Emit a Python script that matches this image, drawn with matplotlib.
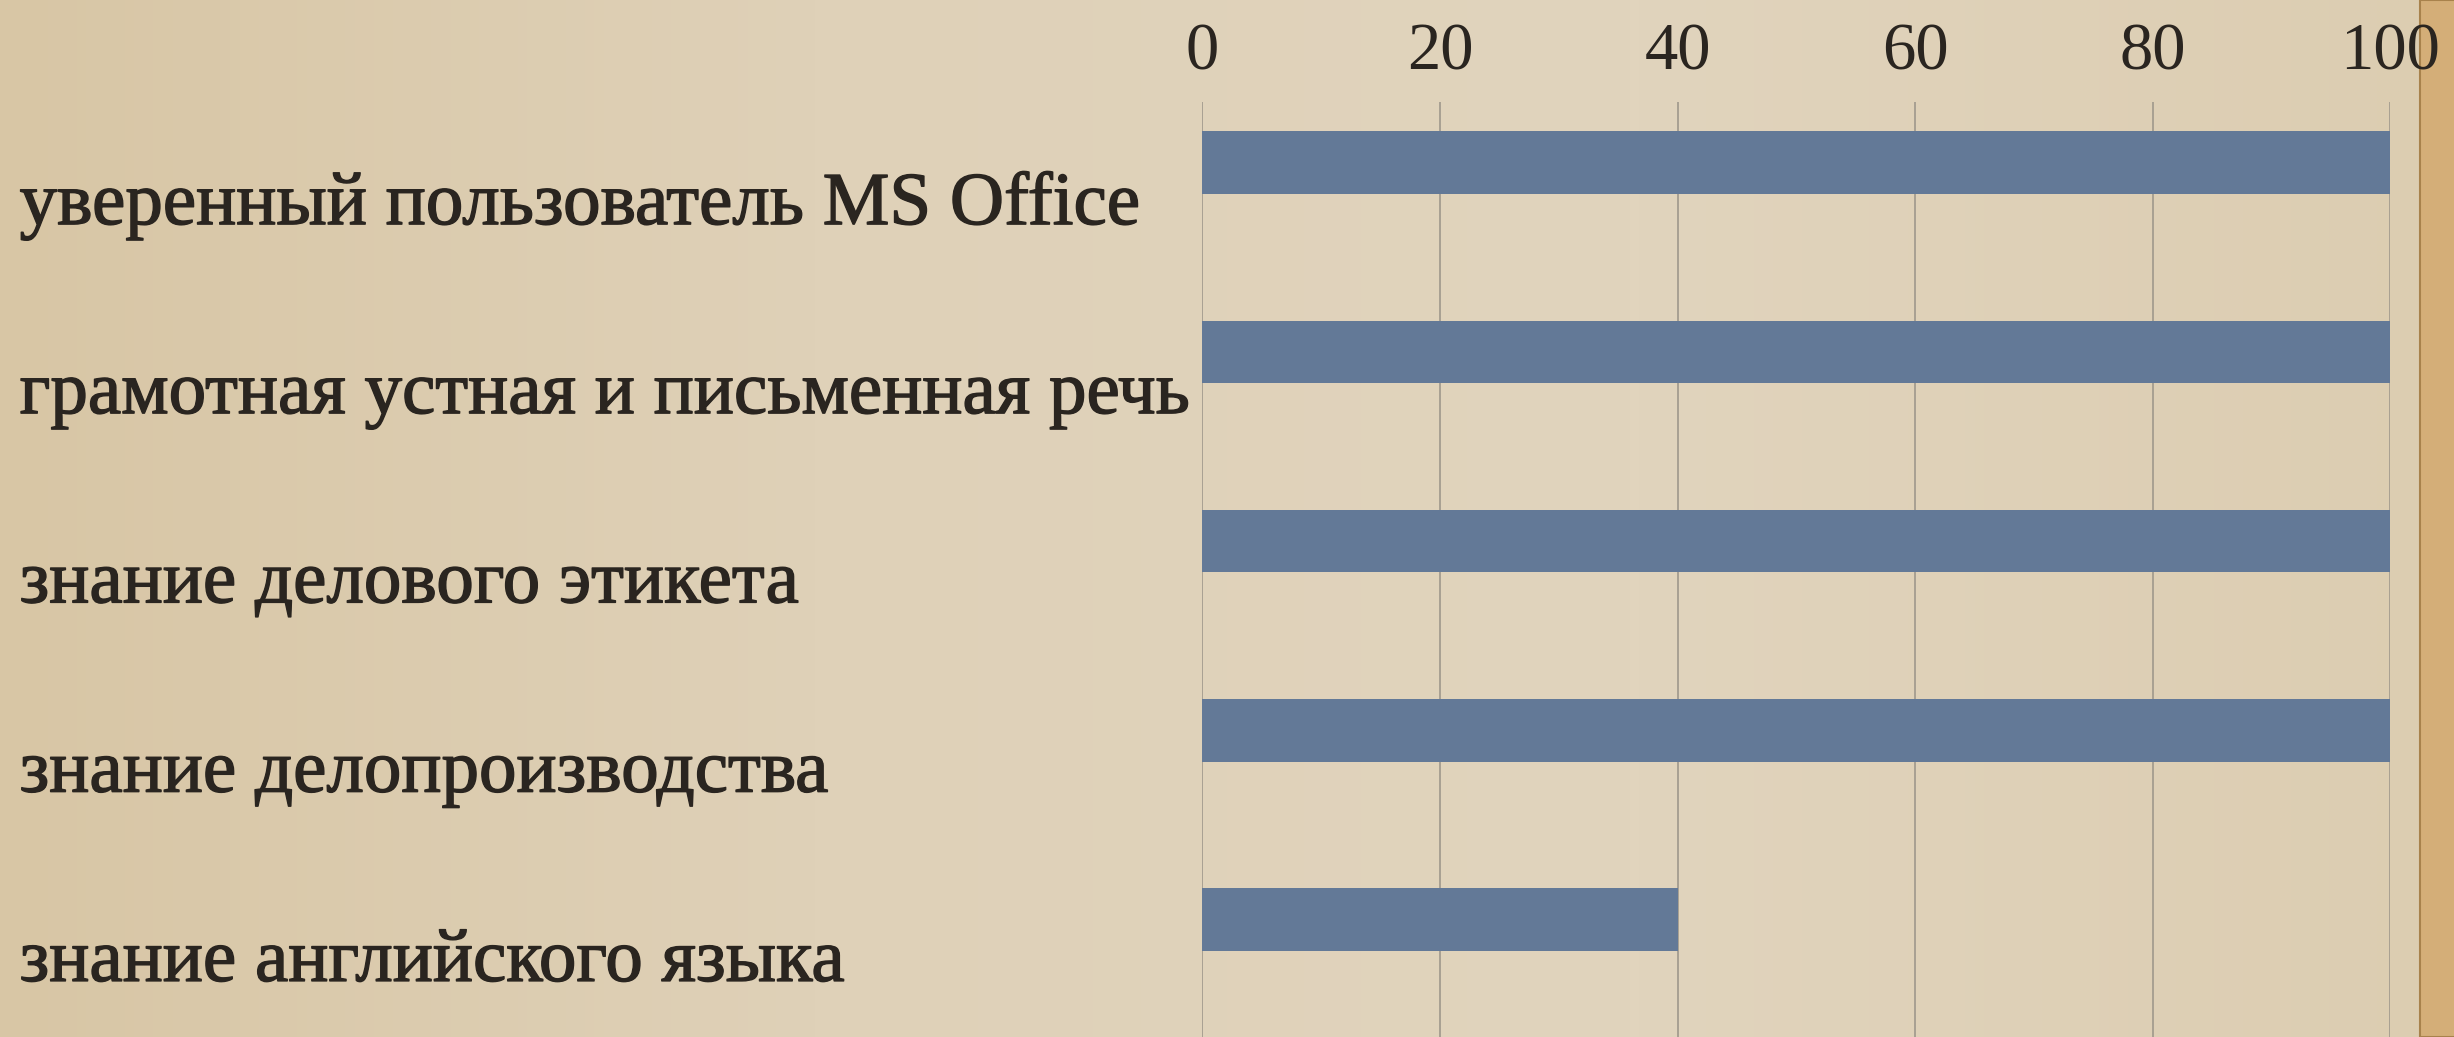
import numpy as np
import matplotlib
matplotlib.use('Agg')
import matplotlib.pyplot as plt
import matplotlib.patheffects as pe
from matplotlib.patches import Rectangle
from matplotlib.colors import LinearSegmentedColormap

# навыки и проценты
skills = ['уверенный пользователь MS Office',
          'грамотная устная и письменная речь',
          'знание делового этикета',
          'знание делопроизводства',
          'знание английского языка']
values = [100, 100, 100, 100, 40]
ticks = [0, 20, 40, 60, 80, 100]

plt.rcParams['font.family'] = ['Liberation Serif', 'DejaVu Serif']
bold = [pe.withStroke(linewidth=1.0, foreground='#2a2520')]

fig = plt.figure(figsize=(24.54, 10.37), dpi=100, facecolor='#ddd0b6')

# фон - бумага, слева чуть темнее
bg = fig.add_axes([0, 0, 1, 1], zorder=-2)
paper = LinearSegmentedColormap.from_list('paper', ['#d8c6a5', '#dfd1b8', '#e1d4bd', '#dccdb1'])
bg.imshow(np.linspace(0, 1, 256)[None, :], aspect='auto', cmap=paper, extent=[0, 1, 0, 1])
bg.axis('off')
# рваный край справа
bg.add_patch(Rectangle((0.986, 0), 0.02, 1, facecolor='#d4ae78', edgecolor='#a8824c', lw=1.5))
bg.set_xlim(0, 1)
bg.set_ylim(0, 1)

ax = fig.add_axes([0.490, 0.0, 0.484, 0.9016])
ax.set_facecolor('none')

y = np.arange(len(skills))
ax.barh(y, values, height=0.33, color='#637997', zorder=3)

ax.set_xlim(0, 100)
ax.set_ylim(4.62, -0.32)
ax.set_xticks(ticks)
ax.set_xticklabels([str(t) for t in ticks], fontsize=48, color='#2a2520')
for lbl in ax.get_xticklabels():
    lbl.set_path_effects(bold)
ax.xaxis.tick_top()
ax.tick_params(axis='x', length=0, pad=13)
ax.set_yticks([])
ax.grid(axis='x', color='#a8a092', lw=1.4, zorder=1)
for s in ax.spines.values():
    s.set_visible(False)

# подписи слева, чуть ниже центров столбцов
trans = matplotlib.transforms.blended_transform_factory(fig.transFigure, ax.transData)
for yi, name in zip(y, skills):
    ax.text(0.008, yi + 0.23, name, transform=trans, ha='left', va='center',
            fontsize=54, color='#2a2520', path_effects=bold)

fig.savefig('out.png', dpi=100, facecolor=fig.get_facecolor())
